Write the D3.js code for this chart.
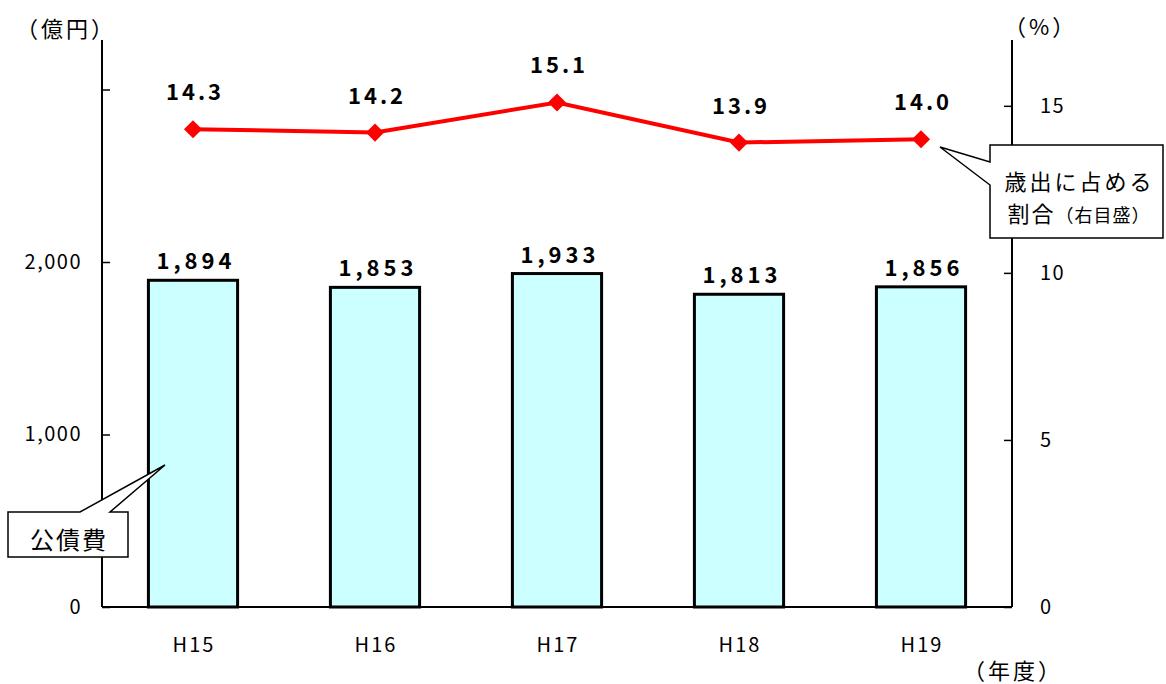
<!DOCTYPE html>
<html><head><meta charset="utf-8">
<script src="https://cdn.jsdelivr.net/npm/d3@7"></script>
<style>body{margin:0;background:#fff}svg{display:block}text{font-family:"Noto Sans CJK JP","DejaVu Sans",sans-serif}</style>
</head><body>
<svg id="c" width="1166" height="684"></svg>
<script>
const categories = ["H15","H16","H17","H18","H19"];
const debtValues = [1894,1853,1933,1813,1856];
const ratioValues = [14.3,14.2,15.1,13.9,14.0];
const leftTicks = [0,1000,2000,3000];
const leftTickLabels = ["0","1,000","2,000",""];
const rightTicks = [0,5,10,15];

const svg = d3.select("#c");
const L = 102, R = 1012, T = 40, B = 607;
const x = d3.scaleBand().domain(categories).range([L,R]).paddingInner(0.51).paddingOuter(0.255);
const y = d3.scaleLinear().domain([0,3287]).range([B,T]);
const y2 = d3.scaleLinear().domain([0,16.97]).range([B,T]);
const fmt = d3.format(",");

// bars
svg.selectAll("rect.bar").data(debtValues).enter().append("rect")
  .attr("x",(d,i)=>x(categories[i])).attr("width",x.bandwidth())
  .attr("y",d=>y(d)).attr("height",d=>B-y(d))
  .attr("fill","#CCFFFF").attr("stroke","#000").attr("stroke-width",3);

// left axis
const ga = svg.append("g").attr("transform",`translate(${L},0)`)
  .call(d3.axisLeft(y).tickValues(leftTicks).tickSize(-8).tickPadding(20).tickFormat((d,i)=>leftTickLabels[i]));
ga.select(".domain").remove();
ga.selectAll(".tick line").attr("stroke","#000").attr("stroke-width",1.5);
ga.selectAll(".tick text").attr("font-size",20).attr("letter-spacing",1.5).attr("fill","#000");
svg.append("line").attr("x1",L).attr("x2",L).attr("y1",T).attr("y2",B).attr("stroke","#000").attr("stroke-width",2);

// right axis
const gr = svg.append("g").attr("transform",`translate(${R},0)`)
  .call(d3.axisRight(y2).tickValues(rightTicks).tickSize(-8).tickPadding(28).tickFormat(d3.format("d")));
gr.select(".domain").remove();
gr.selectAll(".tick line").attr("stroke","#000").attr("stroke-width",1.5);
gr.selectAll(".tick text").attr("font-size",20).attr("letter-spacing",1.5).attr("fill","#000");
svg.append("line").attr("x1",R).attr("x2",R).attr("y1",T).attr("y2",B).attr("stroke","#000").attr("stroke-width",2);

// bottom axis
svg.append("line").attr("x1",L).attr("x2",R).attr("y1",B).attr("y2",B).attr("stroke","#000").attr("stroke-width",2);
svg.selectAll("text.xl").data(categories).enter().append("text")
  .attr("x",d=>x(d)+x.bandwidth()/2).attr("dx",1).attr("y",652).attr("text-anchor","middle")
  .attr("font-size",20).attr("letter-spacing",2).text(d=>d);

// bar labels
svg.selectAll("text.bl").data(debtValues).enter().append("text")
  .attr("x",(d,i)=>x(categories[i])+x.bandwidth()/2).attr("dx",3).attr("y",d=>y(d)-11)
  .attr("text-anchor","middle").attr("font-size",22).attr("font-weight","bold")
  .attr("letter-spacing",4).text(d=>fmt(d));

// line
const cx = (d,i)=>x(categories[i])+x.bandwidth()/2;
svg.append("path").datum(ratioValues)
  .attr("d",d3.line().x(cx).y(d=>y2(d)))
  .attr("fill","none").attr("stroke","#FF0000").attr("stroke-width",4);
svg.selectAll("path.mk").data(ratioValues).enter().append("path")
  .attr("d",d3.symbol().type(d3.symbolDiamond2).size(210))
  .attr("transform",(d,i)=>`translate(${cx(d,i)},${y2(d)})`)
  .attr("fill","#FF0000");
svg.selectAll("text.ll").data(ratioValues).enter().append("text")
  .attr("x",cx).attr("dx",2).attr("y",d=>y2(d)-29)
  .attr("text-anchor","middle").attr("font-size",22).attr("font-weight","bold")
  .attr("letter-spacing",3).text(d=>d.toFixed(1));

// axis titles
svg.append("text").attr("x",16).attr("y",37).attr("font-size",22).attr("letter-spacing",3).text("（億円）");
svg.append("text").attr("x",1004).attr("y",35).attr("font-size",22).attr("letter-spacing",3).text("（%）");
svg.append("text").attr("x",963).attr("y",679).attr("font-size",22).attr("letter-spacing",3).text("（年度）");

// callout: 公債費
svg.append("path").attr("d","M8,512 L80,512 L165,465 L110,512 L128,512 L128,557 L8,557 Z")
  .attr("fill","#fff").attr("stroke","#000").attr("stroke-width",1.5);
svg.append("text").attr("x",68).attr("dx",1).attr("y",549).attr("text-anchor","middle").attr("font-size",24).attr("letter-spacing",2).text("公債費");

// callout: ratio
svg.append("path").attr("d","M990,145 L1163,145 L1163,238 L990,238 L990,185 L940,147 L990,162 Z")
  .attr("fill","#fff").attr("stroke","#000").attr("stroke-width",1.5);
svg.append("text").attr("x",1078).attr("dx",1.5).attr("y",190).attr("text-anchor","middle").attr("font-size",22).attr("letter-spacing",3).text("歳出に占める");
const t2 = svg.append("text").attr("x",1078).attr("dx",1).attr("y",222).attr("text-anchor","middle").attr("font-size",22).attr("letter-spacing",2);
t2.append("tspan").text("割合");
t2.append("tspan").attr("font-size",18).attr("letter-spacing",1).text("（右目盛）");
</script>
</body></html>
